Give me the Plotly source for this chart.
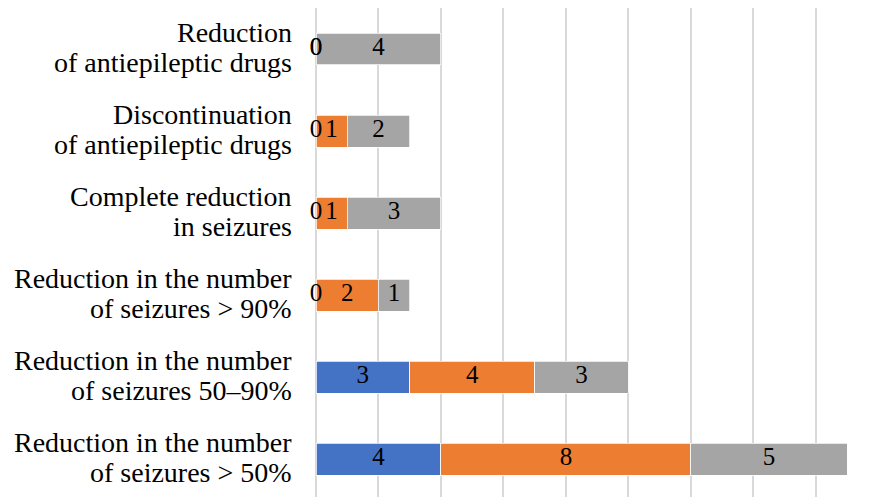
import plotly.graph_objects as go

# Outcome categories, listed bottom to top
categories = [
    "Reduction in the number<br>of seizures > 50%",
    "Reduction in the number<br>of seizures 50–90%",
    "Reduction in the number<br>of seizures > 90%",
    "Complete reduction<br>in seizures",
    "Discontinuation<br>of antiepileptic drugs",
    "Reduction<br>of antiepileptic drugs",
]

# Patient counts for each of the three groups
series_a = [4, 3, 0, 0, 0, 0]
series_b = [8, 4, 2, 1, 1, 0]
series_c = [5, 3, 1, 3, 2, 4]

series = [series_a, series_b, series_c]
colors = ["#4472C4", "#ED7D31", "#A5A5A5"]
names = ["Group A", "Group B", "Group C"]

SERIF = "Liberation Serif"

fig = go.Figure()

for vals, col, nm in zip(series, colors, names):
    fig.add_trace(go.Bar(
        y=categories, x=vals, orientation="h", name=nm,
        marker=dict(color=col, line=dict(color="white", width=0.75)),
        width=0.39, hoverinfo="x+y",
    ))

# Value labels at the middle of each stacked segment
base = [0] * len(categories)
for vals in series:
    mids = [b + v / 2 for b, v in zip(base, vals)]
    fig.add_trace(go.Scatter(
        x=mids, y=categories, mode="text",
        text=[str(v) for v in vals],
        textfont=dict(family=SERIF, size=25, color="black"),
        textposition="middle center", showlegend=False, hoverinfo="skip",
        cliponaxis=False,
    ))
    base = [b + v for b, v in zip(base, vals)]

# Two-line category labels with tight line spacing
annotations = []
for cat in categories:
    lines = cat.split("<br>")
    n = len(lines)
    for i, line in enumerate(lines):
        annotations.append(dict(
            xref="paper", x=0, xanchor="right", xshift=-22,
            yref="y", y=cat, yanchor="middle",
            yshift=(n - 1) * 15 + 2 - i * 30,
            text=line, showarrow=False,
            font=dict(family=SERIF, size=28, color="black"),
        ))

fig.update_layout(
    barmode="stack",
    width=870, height=497,
    margin=dict(l=316, r=0, t=8, b=0),
    font=dict(family=SERIF, color="black"),
    plot_bgcolor="white", paper_bgcolor="white",
    showlegend=False,
    annotations=annotations,
    xaxis=dict(
        range=[0, 17.73], dtick=2, tick0=0,
        showgrid=True, gridcolor="#D9D9D9", gridwidth=1.5,
        zeroline=True, zerolinecolor="#D9D9D9", zerolinewidth=1.5,
        showticklabels=False, showline=False, ticks="",
    ),
    yaxis=dict(
        range=[-0.463, 5.5],
        showticklabels=False, showgrid=False, zeroline=False,
        showline=False, ticks="",
    ),
)

fig.write_html("out.html")
